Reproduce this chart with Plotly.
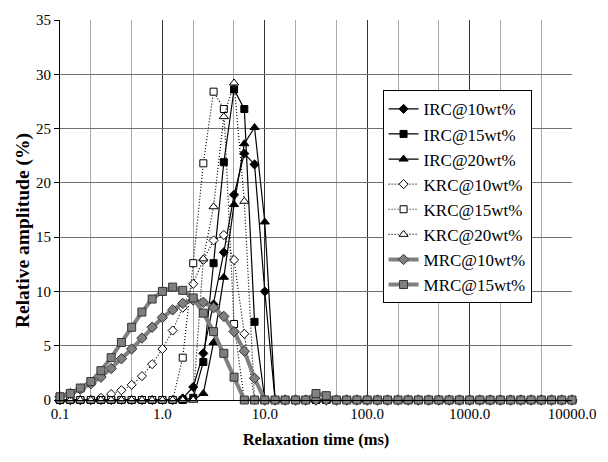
import plotly.graph_objects as go

relax_time = [0.1, 0.126, 0.158, 0.2, 0.251, 0.316, 0.398, 0.501, 0.631, 0.794,
              1.0, 1.26, 1.58, 2.0, 2.51, 3.16, 3.98, 5.01, 6.31, 7.94,
              10, 12.6, 15.8, 20, 25.1, 31.6, 39.8, 50.1, 63.1, 79.4,
              100, 126, 158, 200, 251, 316, 398, 501, 631, 794,
              1000, 1259, 1585, 1995, 2512, 3162, 3981, 5012, 6310, 7943, 10000]

irc10 = [0, 0, 0, 0, 0, 0, 0, 0, 0, 0, 0, 0, 0.15, 1.2, 4.3, 8.8, 13.6, 18.9, 22.7, 21.7,
         10.0, 0, 0, 0, 0, 0, 0, 0, 0, 0, 0, 0, 0, 0, 0, 0, 0, 0, 0, 0,
         0, 0, 0, 0, 0, 0, 0, 0, 0, 0, 0]
irc15 = [0, 0, 0, 0, 0, 0, 0, 0, 0, 0, 0, 0, 0, 0.2, 3.5, 12.6, 21.9, 28.6, 26.8, 7.2,
         0, 0, 0, 0, 0, 0, 0, 0, 0, 0, 0, 0, 0, 0, 0, 0, 0, 0, 0, 0,
         0, 0, 0, 0, 0, 0, 0, 0, 0, 0, 0]
irc20 = [0, 0, 0, 0, 0, 0, 0, 0, 0, 0, 0, 0, 0, 0, 0.6, 5.3, 11.3, 18.0, 23.6, 25.1,
         16.4, 0, 0, 0, 0, 0, 0, 0, 0, 0, 0, 0, 0, 0, 0, 0, 0, 0, 0, 0,
         0, 0, 0, 0, 0, 0, 0, 0, 0, 0, 0]
krc10 = [0, 0, 0, 0, 0.2, 0.55, 0.9, 1.4, 2.2, 3.3, 4.7, 6.4, 8.5, 10.7, 12.9, 14.7, 15.2, 12.9, 6.1, 0,
         0, 0, 0, 0, 0, 0, 0, 0, 0, 0, 0, 0, 0, 0, 0, 0, 0, 0, 0, 0,
         0, 0, 0, 0, 0, 0, 0, 0, 0, 0, 0]
krc15 = [0, 0, 0, 0, 0, 0, 0, 0, 0, 0, 0, 0, 3.9, 12.6, 21.8, 28.4, 26.8, 7.0, 0, 0,
         0, 0, 0, 0, 0, 0, 0, 0, 0, 0, 0, 0, 0, 0, 0, 0, 0, 0, 0, 0,
         0, 0, 0, 0, 0, 0, 0, 0, 0, 0, 0]
krc20 = [0, 0, 0, 0, 0, 0, 0, 0, 0, 0, 0, 0, 0, 0, 13.0, 17.8, 26.1, 29.2, 18.3, 0,
         0, 0, 0, 0, 0, 0, 0, 0, 0, 0, 0, 0, 0, 0, 0, 0, 0, 0, 0, 0,
         0, 0, 0, 0, 0, 0, 0, 0, 0, 0, 0]
mrc10 = [0.3, 0.6, 1.0, 1.5, 2.1, 2.9, 3.8, 4.7, 5.7, 6.7, 7.6, 8.3, 8.9, 9.2, 9.0, 8.5, 7.7, 6.3, 4.5, 2.0,
         0, 0, 0, 0, 0, 0, 0, 0, 0, 0, 0, 0, 0, 0, 0, 0, 0, 0, 0, 0,
         0, 0, 0, 0, 0, 0, 0, 0, 0, 0, 0]
mrc15 = [0.3, 0.6, 1.1, 1.7, 2.7, 3.9, 5.3, 6.7, 8.1, 9.3, 10.0, 10.4, 10.1, 9.4, 8.0, 6.3, 4.3, 2.1, 0, 0,
         0, 0, 0, 0, 0, 0.6, 0.4, 0, 0, 0, 0, 0, 0, 0, 0, 0, 0, 0, 0, 0,
         0, 0, 0, 0, 0, 0, 0, 0, 0, 0, 0]

tick_vals = [0.1, 1, 10, 100, 1000, 10000]
tick_text = ["0.1", "1.0", "10.0", "100.0", "1000.0", "10000.0"]

FONT = "'Liberation Serif', 'Times New Roman', Times, serif"
GRAY = "#808080"

series = [
    ("IRC@10wt%", irc10, dict(color="black", width=1.2, dash="solid"),
     dict(symbol="diamond", size=7, color="black", line=dict(color="black", width=1))),
    ("IRC@15wt%", irc15, dict(color="black", width=1.2, dash="solid"),
     dict(symbol="square", size=7, color="black", line=dict(color="black", width=1))),
    ("IRC@20wt%", irc20, dict(color="black", width=1.2, dash="solid"),
     dict(symbol="triangle-up", size=8, color="black", line=dict(color="black", width=1))),
    ("KRC@10wt%", krc10, dict(color="black", width=1.2, dash="1px,2px"),
     dict(symbol="diamond", size=7, color="white", line=dict(color="black", width=1))),
    ("KRC@15wt%", krc15, dict(color="black", width=1.2, dash="1px,2px"),
     dict(symbol="square", size=7, color="white", line=dict(color="black", width=1))),
    ("KRC@20wt%", krc20, dict(color="black", width=1.2, dash="1px,2px"),
     dict(symbol="triangle-up", size=8, color="white", line=dict(color="black", width=1))),
    ("MRC@10wt%", mrc10, dict(color=GRAY, width=4, dash="solid"),
     dict(symbol="diamond", size=8, color=GRAY, line=dict(color="#333333", width=1))),
    ("MRC@15wt%", mrc15, dict(color=GRAY, width=4, dash="solid"),
     dict(symbol="square", size=8, color=GRAY, line=dict(color="#333333", width=1))),
]

fig = go.Figure()
for name, vals, line, marker in series:
    fig.add_trace(go.Scatter(x=relax_time, y=vals, name=name, mode="lines+markers",
                             line=line, marker=marker, cliponaxis=False))

fig.add_annotation(text="<b>Relative amplitude (%)</b>", xref="paper", yref="paper",
                   x=-0.072, y=0.445, xanchor="center", yanchor="middle", textangle=-90,
                   showarrow=False, font=dict(family=FONT, size=19.5, color="black"))

fig.update_layout(
    width=608, height=462,
    margin=dict(l=60, r=28, t=17, b=62),
    paper_bgcolor="white", plot_bgcolor="white",
    font=dict(family=FONT, size=15, color="black"),
    showlegend=True,
    legend=dict(x=0.63, y=0.815, xanchor="left", yanchor="top",
                bgcolor="white", bordercolor="black", borderwidth=1,
                font=dict(family=FONT, size=17, color="black"),
                tracegroupgap=0, itemwidth=30),
    xaxis=dict(type="log", range=[-1, 4], tickvals=tick_vals, ticktext=tick_text,
               showgrid=True, gridcolor="#333333", gridwidth=1,
               minor=dict(showgrid=True, gridcolor="#a8a8a8", gridwidth=1.3, ticks=""),
               showline=True, linecolor="black", linewidth=1, ticks="",
               zeroline=False,
               title=dict(text="<b>Relaxation time (ms)</b>", font=dict(family=FONT, size=16.5),
                          standoff=12),
               tickfont=dict(family=FONT, size=15)),
    yaxis=dict(range=[0, 35], dtick=5, showgrid=True, gridcolor="#707070", gridwidth=1.3,
               showline=True, linecolor="black", linewidth=1, ticks="outside", ticklen=5,
               tickcolor="black", zeroline=False,
               tickfont=dict(family=FONT, size=15)),
)

fig.write_html("out.html")
